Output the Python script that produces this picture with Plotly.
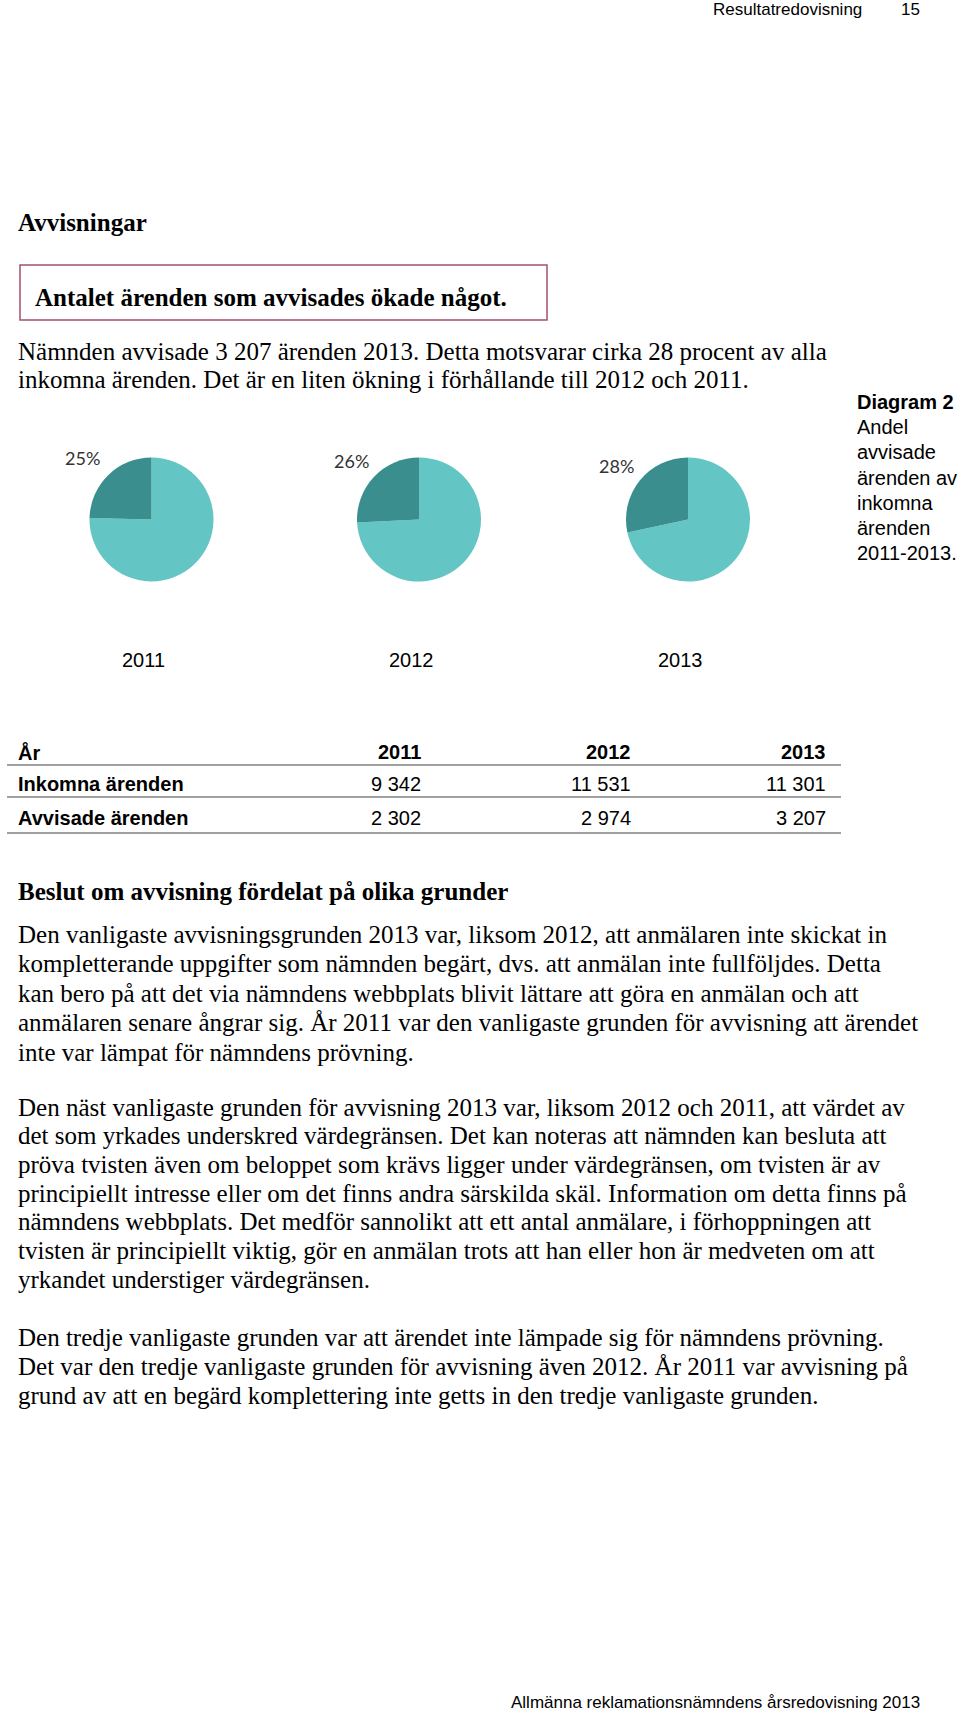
import plotly.graph_objects as go

# ---- data ----
years = ["2011", "2012", "2013"]
inkomna = [9342, 11531, 11301]
avvisade = [2302, 2974, 3207]
row_labels = ["Inkomna ärenden", "Avvisade ärenden"]
table_head = "År"

# ---- text ----
header_left = "Resultatredovisning"
header_page = "15"
heading = "Avvisningar"
box_text = "Antalet ärenden som avvisades ökade något."
intro_lines = [
    "Nämnden avvisade 3 207 ärenden 2013. Detta motsvarar cirka 28 procent av alla",
    "inkomna ärenden. Det är en liten ökning i förhållande till 2012 och 2011.",
]
caption_lines = ["<b>Diagram 2</b>", "Andel", "avvisade", "ärenden av", "inkomna", "ärenden", "2011-2013."]
sub_heading = "Beslut om avvisning fördelat på olika grunder"
para1 = [
    "Den vanligaste avvisningsgrunden 2013 var, liksom 2012, att anmälaren inte skickat in",
    "kompletterande uppgifter som nämnden begärt, dvs. att anmälan inte fullföljdes. Detta",
    "kan bero på att det via nämndens webbplats blivit lättare att göra en anmälan och att",
    "anmälaren senare ångrar sig. År 2011 var den vanligaste grunden för avvisning att ärendet",
    "inte var lämpat för nämndens prövning.",
]
para2 = [
    "Den näst vanligaste grunden för avvisning 2013 var, liksom 2012 och 2011, att värdet av",
    "det som yrkades underskred värdegränsen. Det kan noteras att nämnden kan besluta att",
    "pröva tvisten även om beloppet som krävs ligger under värdegränsen, om tvisten är av",
    "principiellt intresse eller om det finns andra särskilda skäl. Information om detta finns på",
    "nämndens webbplats. Det medför sannolikt att ett antal anmälare, i förhoppningen att",
    "tvisten är principiellt viktig, gör en anmälan trots att han eller hon är medveten om att",
    "yrkandet understiger värdegränsen.",
]
para3 = [
    "Den tredje vanligaste grunden var att ärendet inte lämpade sig för nämndens prövning.",
    "Det var den tredje vanligaste grunden för avvisning även 2012. År 2011 var avvisning på",
    "grund av att en begärd komplettering inte getts in den tredje vanligaste grunden.",
]
footer = "Allmänna reklamationsnämndens årsredovisning 2013"

W, H = 960, 1714
SERIF = "Liberation Serif, Times New Roman, serif"
SANS = "Liberation Sans, Arial, sans-serif"
DARK = "#3b8e8e"
LIGHT = "#64c5c5"


def px(x):
    return x / W


def py(y):
    return 1 - y / H


fig = go.Figure()

# pies: light share first (clockwise from 12 o'clock), so the rejected share
# ends at 12 o'clock on the left side as in the original
pie_cx = [151.5, 419, 688]
pie_cy = 519.5
pie_r = 62
for i, yr in enumerate(years):
    fig.add_trace(go.Pie(
        values=[inkomna[i] - avvisade[i], avvisade[i]],
        labels=["Övriga", "Avvisade"],
        sort=False, direction="clockwise", rotation=0,
        marker=dict(colors=[LIGHT, DARK], line=dict(width=0)),
        textinfo="none", hoverinfo="label+value+percent", showlegend=False,
        domain=dict(x=[px(pie_cx[i] - pie_r), px(pie_cx[i] + pie_r)],
                    y=[py(pie_cy + pie_r), py(pie_cy - pie_r)]),
        name=yr,
    ))

ann = []


def text(x, y, s, size, family=SANS, anchor="left", color="#000", bold=False):
    ann.append(dict(x=px(x), y=py(y), xref="paper", yref="paper", text=(f"<b>{s}</b>" if bold else s),
                    showarrow=False, xanchor=anchor, yanchor="middle",
                    font=dict(size=size, family=family, color=color)))


# header / footer
text(864, 10, header_left, 17, anchor="right")
text(922, 10, header_page, 17, anchor="right")
text(922, 1702, footer, 17, anchor="right")

# heading and box
text(16, 223, heading, 25, SERIF, bold=True)
text(33, 297, box_text, 25, SERIF, bold=True)
for k, line in enumerate(intro_lines):
    text(16, 351 + 29 * k, line, 25, SERIF)

# pie labels (percent share)
lab_x = [82, 351, 616]
lab_y = [458, 461, 466]
for i in range(3):
    pct = round(100 * avvisade[i] / inkomna[i])
    text(lab_x[i], lab_y[i], f"{pct}%", 18, "Lato, Open Sans, sans-serif", anchor="center", color="#333")
    text(pie_cx[i] - 8, 660, years[i], 20, anchor="center")

# caption
for k, line in enumerate(caption_lines):
    text(855, 402 + 25.2 * k, line, 20)

# table
col_right = [423, 633, 828]
text(16, 752, table_head, 20, bold=True)
for i, yr in enumerate(years):
    text(col_right[i], 752, yr, 20, anchor="right", bold=True)
rows = [inkomna, avvisade]
row_y = [784, 818]
for r, vals in enumerate(rows):
    text(16, row_y[r], row_labels[r], 20, bold=True)
    for i, v in enumerate(vals):
        text(col_right[i], row_y[r], f"{v:,}".replace(",", " "), 20, anchor="right")

# sub heading and paragraphs
text(16, 892, sub_heading, 25, SERIF, bold=True)
for k, line in enumerate(para1):
    text(16, 934 + 29.5 * k, line, 25, SERIF)
for k, line in enumerate(para2):
    text(16, 1107 + 28.7 * k, line, 25, SERIF)
for k, line in enumerate(para3):
    text(16, 1337 + 29.3 * k, line, 25, SERIF)

shapes = [
    dict(type="rect", xref="paper", yref="paper", x0=px(20), x1=px(547), y0=py(320), y1=py(265),
         line=dict(color="#a3506e", width=1.5), fillcolor="rgba(0,0,0,0)"),
]
for yl in [765, 797, 833]:
    shapes.append(dict(type="line", xref="paper", yref="paper", x0=px(7), x1=px(841), y0=py(yl), y1=py(yl),
                       line=dict(color="#a0a0a0", width=2)))

fig.update_layout(
    width=W, height=H, margin=dict(l=0, r=0, t=0, b=0),
    paper_bgcolor="white", plot_bgcolor="white",
    annotations=ann, shapes=shapes,
)

fig.write_html("out.html", config={"displayModeBar": False},
               post_script="document.body.style.margin='0';")
